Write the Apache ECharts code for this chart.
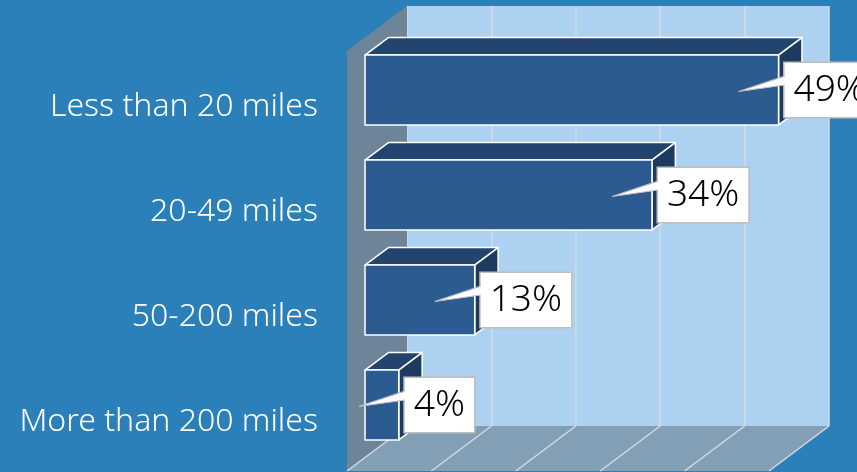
<!DOCTYPE html>
<html>
<head>
<meta charset="utf-8">
<script src="https://cdn.jsdelivr.net/npm/echarts@6/dist/echarts.min.js"></script>
<style>
  html, body { margin: 0; padding: 0; background: #2B80BA; }
  #chart { width: 857px; height: 472px; }
</style>
</head>
<body>
<div id="chart"></div>
<script>
// data
var categories = ['Less than 20 miles', '20-49 miles', '50-200 miles', 'More than 200 miles'];
var shares = [49, 34, 13, 4];
var xTicks = [0, 10, 20, 30, 40, 50];

// oblique depth of the "room" (back wall -> front edge)
var DEPTH_X = -60, DEPTH_Y = 45;
var BAR_BACK = 0.31, BAR_FRONT = 0.70;

function depth(t) {
  return [DEPTH_X * t, DEPTH_Y * t];
}

var chart = echarts.init(document.getElementById('chart'));

function renderRoom(params, api) {
  var cs = params.coordSys;
  var d = depth(1);
  var left = cs.x, top = cs.y, bottom = cs.y + cs.height;
  var children = [];
  // left side wall
  children.push({
    type: 'polygon',
    shape: { points: [[left, top], [left + d[0], top + d[1]], [left + d[0], bottom + d[1]], [left, bottom]] },
    style: { fill: '#6E8499' }
  });
  // floor
  var x0 = api.coord([xTicks[0], 0])[0];
  var x1 = api.coord([xTicks[xTicks.length - 1], 0])[0];
  children.push({
    type: 'polygon',
    shape: { points: [[x0, bottom], [x1, bottom], [x1 + d[0], bottom + d[1]], [x0 + d[0], bottom + d[1]]] },
    style: { fill: '#839FB6' }
  });
  xTicks.forEach(function (t) {
    var x = api.coord([t, 0])[0];
    children.push({
      type: 'line',
      shape: { x1: x, y1: bottom, x2: x + d[0], y2: bottom + d[1] },
      style: { stroke: '#D4DBE2', lineWidth: 1.5 }
    });
  });
  return { type: 'group', children: children };
}

function renderBar(params, api) {
  var v = api.value(0);
  var c = api.value(1);
  var p0 = api.coord([0, c]);
  var p1 = api.coord([v, c]);
  var h = api.size([0, 1])[1] * 0.665;
  var f = depth(BAR_FRONT), b = depth(BAR_BACK), fl = depth(1);

  var fx0 = p0[0] + f[0], fx1 = p1[0] + f[0];
  var fy0 = p0[1] - h / 2 + f[1], fy1 = fy0 + h;
  var bx0 = p0[0] + b[0], bx1 = p1[0] + b[0];
  var by0 = p0[1] - h / 2 + b[1], by1 = by0 + h;
  var edge = { stroke: '#FFFFFF', lineWidth: 1.5, lineJoin: 'round' };

  var cy = (fy0 + fy1) / 2;
  var boxX = fx1 + 6;

  return {
    type: 'group',
    children: [
      // category label, placed on the front edge of the floor
      {
        type: 'text',
        style: {
          text: categories[c],
          x: p0[0] - 89,
          y: p0[1] + fl[1] + 3,
          align: 'right',
          verticalAlign: 'middle',
          fill: '#FFFFFF',
          font: '300 32px "Noto Sans"'
        }
      },
      {
        type: 'polygon',
        shape: { points: [[fx0, fy0], [bx0, by0], [bx1, by0], [fx1, fy0]] },
        style: Object.assign({ fill: '#22446F' }, edge)
      },
      {
        type: 'polygon',
        shape: { points: [[fx1, fy0], [bx1, by0], [bx1, by1], [fx1, fy1]] },
        style: Object.assign({ fill: '#1E3A60' }, edge)
      },
      {
        type: 'rect',
        shape: { x: fx0, y: fy0, width: fx1 - fx0, height: fy1 - fy0 },
        style: Object.assign({ fill: '#2C5B92' }, edge)
      },
      {
        type: 'text',
        z2: 10,
        style: {
          text: v + '%',
          x: boxX,
          y: cy,
          align: 'left',
          verticalAlign: 'middle',
          fill: '#000000',
          font: '300 37px "Noto Sans"',
          lineHeight: 40,
          backgroundColor: '#FFFFFF',
          borderColor: '#BFBFBF',
          borderWidth: 1.5,
          padding: [7, 9, 7, 9]
        }
      },
      {
        type: 'polygon',
        z2: 11,
        shape: { points: [[boxX + 1.5, cy - 14], [fx1 - 40, cy + 1.5], [boxX + 1.5, cy - 5]] },
        style: { fill: '#FFFFFF' }
      },
      {
        type: 'polyline',
        z2: 12,
        shape: { points: [[boxX, cy - 14], [fx1 - 40, cy + 1.5], [boxX, cy - 5]] },
        style: { stroke: '#BFBFBF', lineWidth: 1.2, fill: null }
      }
    ]
  };
}

var option = {
  backgroundColor: '#2B80BA',
  animation: false,
  grid: {
    left: 407,
    right: 28,
    top: 6,
    bottom: 46,
    show: true,
    backgroundColor: '#ADD1F0',
    borderWidth: 0
  },
  xAxis: {
    type: 'value',
    min: 0,
    max: 50,
    interval: 10,
    axisLabel: { show: false },
    axisLine: { show: false },
    axisTick: { show: false },
    splitLine: { show: true, lineStyle: { color: '#D4DBE2', width: 1.5 } }
  },
  yAxis: {
    type: 'category',
    inverse: true,
    data: categories,
    axisLine: { show: false },
    axisTick: { show: false },
    axisLabel: { show: false }
  },
  series: [
    {
      type: 'custom',
      z: 1,
      silent: true,
      renderItem: renderRoom,
      data: [[0, 0]]
    },
    {
      type: 'custom',
      z: 3,
      renderItem: renderBar,
      encode: { x: 0, y: 1 },
      data: shares.map(function (s, i) { return [s, i]; })
    }
  ]
};

chart.setOption(option);
</script>
</body>
</html>
